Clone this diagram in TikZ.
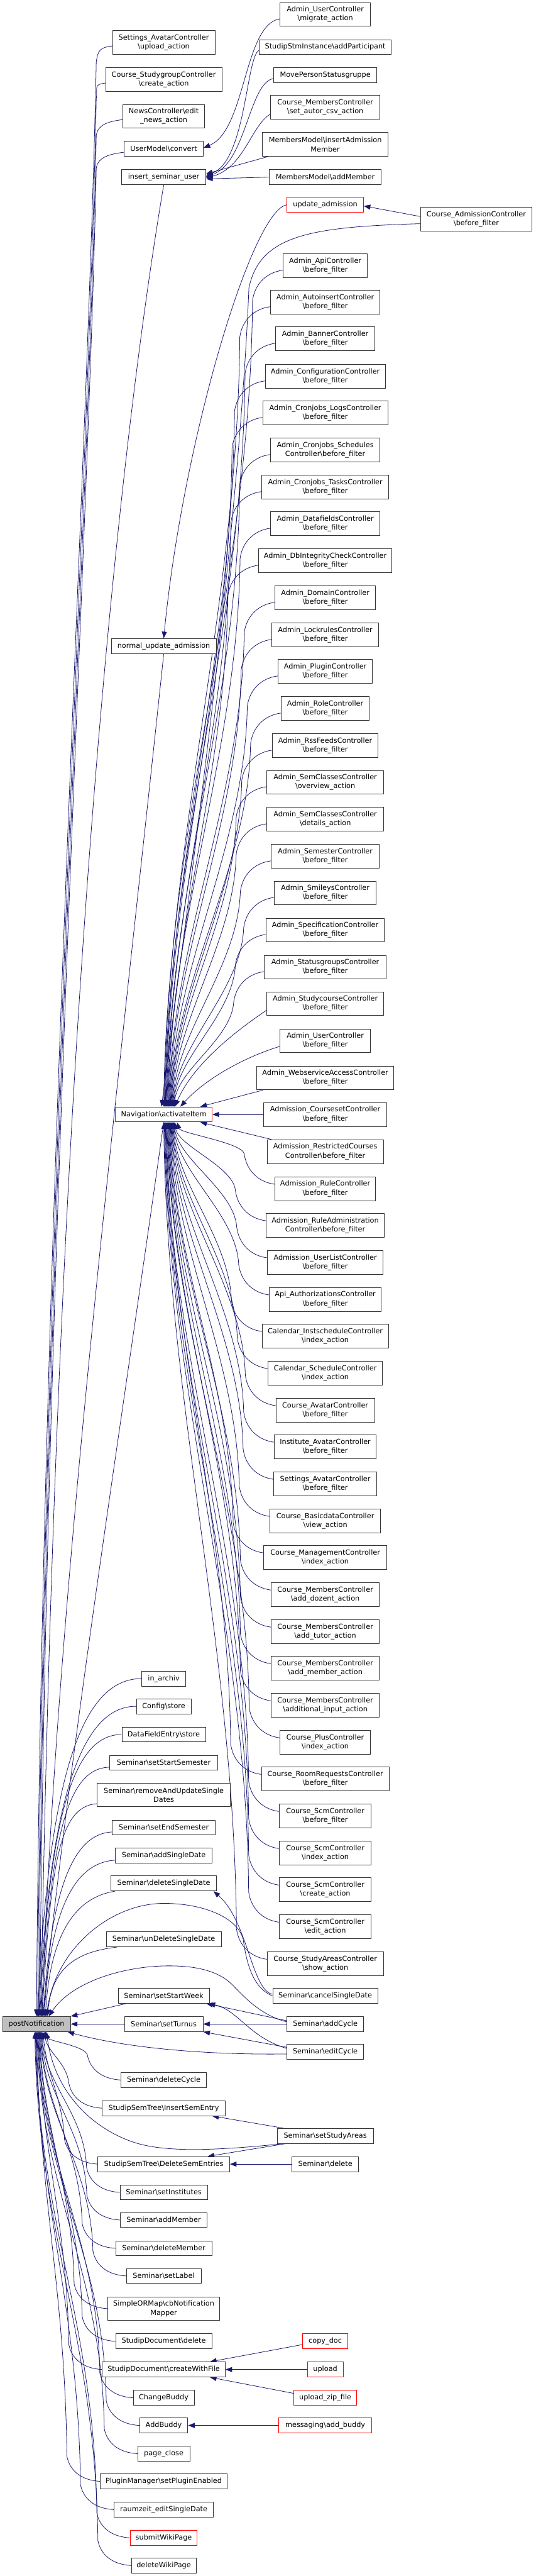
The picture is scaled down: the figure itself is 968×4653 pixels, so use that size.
\documentclass[tikz,border=0pt]{standalone}
\usepackage{fontspec}
\setmainfont{DejaVu Sans}
\usetikzlibrary{arrows.meta,backgrounds}
\definecolor{edgeblue}{RGB}{25,25,112}
\definecolor{nodegray}{RGB}{191,191,191}
\newcommand{\bsl}{\textbackslash}
\tikzset{
  box/.style={draw=black!80, line width=1pt, fill=white, align=center, inner xsep=5pt, inner ysep=0pt, font=\fontsize{12.8}{16}\selectfont, text=black},
  one/.style={box, minimum height=27pt},
  two/.style={box, minimum height=43pt},
  trunc/.style={draw=red},
  edge/.style={draw=edgeblue, line width=0.9pt, -{Triangle[length=12pt,width=9pt]}},
}
\begin{document}
\begin{tikzpicture}[x=1pt,y=-1pt]
\useasboundingbox (0,0) rectangle (968,4653);
% ---------- column 1
\node[one, fill=nodegray, minimum width=123pt] (postNot) at (66,3656) {postNotification};
% ---------- column 2
\node[two, minimum width=185pt] (setAvUp) at (296,77) {Settings\_AvatarController\\\bsl upload\_action};
\node[two, minimum width=210pt] (studyGroup) at (296,144) {Course\_StudygroupController\\\bsl create\_action};
\node[two, minimum width=147pt] (news) at (296,210) {NewsController\bsl edit\\\_news\_action};
\node[one, minimum width=143pt] (convert) at (296,269) {UserModel\bsl convert};
\node[one, minimum width=152pt] (insSem) at (296,320) {insert\_seminar\_user};
\node[one, minimum width=190pt] (normUpd) at (296,1167) {normal\_update\_admission};
\node[one, trunc, minimum width=175pt] (nav) at (296,2013) {Navigation\bsl activateItem};
\node[one, minimum width=79pt] (inArchiv) at (296,3032) {in\_archiv};
\node[one, minimum width=99pt] (cfgStore) at (296,3082) {Config\bsl store};
\node[one, minimum width=151pt] (dfStore) at (296,3133) {DataFieldEntry\bsl store};
\node[one, minimum width=195pt] (setStartSem) at (296,3184) {Seminar\bsl setStartSemester};
\node[two, minimum width=240pt] (removeUpd) at (296,3242) {Seminar\bsl removeAndUpdateSingle\\Dates};
\node[one, minimum width=187pt] (setEndSem) at (296,3301) {Seminar\bsl setEndSemester};
\node[one, minimum width=175pt] (addSD) at (296,3352) {Seminar\bsl addSingleDate};
\node[one, minimum width=191pt] (delSD) at (296,3402) {Seminar\bsl deleteSingleDate};
\node[one, minimum width=208pt] (undelSD) at (296,3503) {Seminar\bsl unDeleteSingleDate};
\node[one, minimum width=165pt] (setStartWeek) at (296,3605) {Seminar\bsl setStartWeek};
\node[one, minimum width=142pt] (setTurnus) at (296,3656) {Seminar\bsl setTurnus};
\node[one, minimum width=155pt] (delCycle) at (296,3757) {Seminar\bsl deleteCycle};
\node[one, minimum width=222pt] (insSemEntry) at (296,3808) {StudipSemTree\bsl InsertSemEntry};
\node[one, minimum width=238pt] (delSemEntries) at (296,3909) {StudipSemTree\bsl DeleteSemEntries};
\node[one, minimum width=158pt] (setInst) at (296,3960) {Seminar\bsl setInstitutes};
\node[one, minimum width=157pt] (semAddMember) at (296,4010) {Seminar\bsl addMember};
\node[one, minimum width=174pt] (semDelMember) at (296,4061) {Seminar\bsl deleteMember};
\node[one, minimum width=135pt] (setLabel) at (296,4111) {Seminar\bsl setLabel};
\node[two, minimum width=203pt] (sormap) at (296,4170) {SimpleORMap\bsl cbNotification\\Mapper};
\node[one, minimum width=174pt] (docDelete) at (296,4229) {StudipDocument\bsl delete};
\node[one, minimum width=222pt] (createWF) at (296,4280) {StudipDocument\bsl createWithFile};
\node[one, minimum width=110pt] (changeBuddy) at (296,4331) {ChangeBuddy};
\node[one, minimum width=87pt] (addBuddy) at (296,4381) {AddBuddy};
\node[one, minimum width=94pt] (pageClose) at (296,4432) {page\_close};
\node[one, minimum width=229pt] (pluginEn) at (296,4482) {PluginManager\bsl setPluginEnabled};
\node[one, minimum width=180pt] (raumzeit) at (296,4533) {raumzeit\_editSingleDate};
\node[one, trunc, minimum width=121pt] (submitWiki) at (296,4584) {submitWikiPage};
\node[one, minimum width=117pt] (deleteWiki) at (296,4634) {deleteWikiPage};
% ---------- column 3
\node[two, minimum width=163pt] (mig) at (588,26) {Admin\_UserController\\\bsl migrate\_action};
\node[one, minimum width=238pt] (addPart) at (588,85) {StudipStmInstance\bsl addParticipant};
\node[one, minimum width=187pt] (movePS) at (588,136) {MovePersonStatusgruppe};
\node[two, minimum width=197pt] (setAutor) at (588,194) {Course\_MembersController\\\bsl set\_autor\_csv\_action};
\node[two, minimum width=227pt] (insAdm) at (588,261) {MembersModel\bsl insertAdmission\\Member};
\node[one, minimum width=202pt] (mmAdd) at (588,320) {MembersModel\bsl addMember};
\node[one, trunc, minimum width=138pt] (updAdm) at (588,370) {update\_admission};
\node[two, minimum width=152pt] (apiC) at (588,480) {Admin\_ApiController\\\bsl before\_filter};
\node[two, minimum width=198pt] (autoins) at (588,546) {Admin\_AutoinsertController\\\bsl before\_filter};
\node[two, minimum width=179pt] (banner) at (588,612) {Admin\_BannerController\\\bsl before\_filter};
\node[two, minimum width=217pt] (config) at (588,680) {Admin\_ConfigurationController\\\bsl before\_filter};
\node[two, minimum width=226pt] (cronLogs) at (588,746) {Admin\_Cronjobs\_LogsController\\\bsl before\_filter};
\node[two, minimum width=198pt] (cronSched) at (588,813) {Admin\_Cronjobs\_Schedules\\Controller\bsl before\_filter};
\node[two, minimum width=230pt] (cronTasks) at (588,880) {Admin\_Cronjobs\_TasksController\\\bsl before\_filter};
\node[two, minimum width=197pt] (datafields) at (588,946) {Admin\_DatafieldsController\\\bsl before\_filter};
\node[two, minimum width=241pt] (dbint) at (588,1013) {Admin\_DbIntegrityCheckController\\\bsl before\_filter};
\node[two, minimum width=182pt] (domain) at (588,1080) {Admin\_DomainController\\\bsl before\_filter};
\node[two, minimum width=193pt] (lockrules) at (588,1147) {Admin\_LockrulesController\\\bsl before\_filter};
\node[two, minimum width=171pt] (plugin) at (588,1213) {Admin\_PluginController\\\bsl before\_filter};
\node[two, minimum width=159pt] (role) at (588,1280) {Admin\_RoleController\\\bsl before\_filter};
\node[two, minimum width=191pt] (rss) at (588,1347) {Admin\_RssFeedsController\\\bsl before\_filter};
\node[two, minimum width=211pt] (semOver) at (588,1413) {Admin\_SemClassesController\\\bsl overview\_action};
\node[two, minimum width=211pt] (semDet) at (588,1480) {Admin\_SemClassesController\\\bsl details\_action};
\node[two, minimum width=196pt] (semester) at (588,1547) {Admin\_SemesterController\\\bsl before\_filter};
\node[two, minimum width=184pt] (smileys) at (588,1613) {Admin\_SmileysController\\\bsl before\_filter};
\node[two, minimum width=214pt] (spec) at (588,1680) {Admin\_SpecificationController\\\bsl before\_filter};
\node[two, minimum width=220pt] (statusgr) at (588,1747) {Admin\_StatusgroupsController\\\bsl before\_filter};
\node[two, minimum width=212pt] (studycourse) at (588,1813) {Admin\_StudycourseController\\\bsl before\_filter};
\node[two, minimum width=163pt] (userBF) at (588,1880) {Admin\_UserController\\\bsl before\_filter};
\node[two, minimum width=248pt] (websvc) at (588,1947) {Admin\_WebserviceAccessController\\\bsl before\_filter};
\node[two, minimum width=223pt] (courseset) at (588,2013) {Admission\_CoursesetController\\\bsl before\_filter};
\node[two, minimum width=210pt] (restricted) at (588,2080) {Admission\_RestrictedCourses\\Controller\bsl before\_filter};
\node[two, minimum width=182pt] (rule) at (588,2147) {Admission\_RuleController\\\bsl before\_filter};
\node[two, minimum width=214pt] (ruleAdmin) at (588,2213) {Admission\_RuleAdministration\\Controller\bsl before\_filter};
\node[two, minimum width=209pt] (userList) at (588,2280) {Admission\_UserListController\\\bsl before\_filter};
\node[two, minimum width=202pt] (apiAuth) at (588,2347) {Api\_AuthorizationsController\\\bsl before\_filter};
\node[two, minimum width=228pt] (instsched) at (588,2413) {Calendar\_InstscheduleController\\\bsl index\_action};
\node[two, minimum width=207pt] (sched) at (588,2480) {Calendar\_ScheduleController\\\bsl index\_action};
\node[two, minimum width=178pt] (courseAvatar) at (588,2547) {Course\_AvatarController\\\bsl before\_filter};
\node[two, minimum width=184pt] (instAvatar) at (588,2613) {Institute\_AvatarController\\\bsl before\_filter};
\node[two, minimum width=186pt] (setAvatar) at (588,2680) {Settings\_AvatarController\\\bsl before\_filter};
\node[two, minimum width=200pt] (basicdata) at (588,2747) {Course\_BasicdataController\\\bsl view\_action};
\node[two, minimum width=222pt] (management) at (588,2813) {Course\_ManagementController\\\bsl index\_action};
\node[two, minimum width=196pt] (addDozent) at (588,2880) {Course\_MembersController\\\bsl add\_dozent\_action};
\node[two, minimum width=196pt] (addTutor) at (588,2947) {Course\_MembersController\\\bsl add\_tutor\_action};
\node[two, minimum width=196pt] (addMember) at (588,3013) {Course\_MembersController\\\bsl add\_member\_action};
\node[two, minimum width=196pt] (addInput) at (588,3080) {Course\_MembersController\\\bsl additional\_input\_action};
\node[two, minimum width=164pt] (plus) at (588,3147) {Course\_PlusController\\\bsl index\_action};
\node[two, minimum width=231pt] (roomreq) at (588,3213) {Course\_RoomRequestsController\\\bsl before\_filter};
\node[two, minimum width=166pt] (scmBF) at (588,3280) {Course\_ScmController\\\bsl before\_filter};
\node[two, minimum width=166pt] (scmIndex) at (588,3347) {Course\_ScmController\\\bsl index\_action};
\node[two, minimum width=166pt] (scmCreate) at (588,3413) {Course\_ScmController\\\bsl create\_action};
\node[two, minimum width=166pt] (scmEdit) at (588,3480) {Course\_ScmController\\\bsl edit\_action};
\node[two, minimum width=210pt] (studyAreas) at (588,3547) {Course\_StudyAreasController\\\bsl show\_action};
\node[one, minimum width=190pt] (cancelSD) at (588,3605) {Seminar\bsl cancelSingleDate};
\node[one, minimum width=138pt] (addCycle) at (588,3656) {Seminar\bsl addCycle};
\node[one, minimum width=138pt] (editCycle) at (588,3706) {Seminar\bsl editCycle};
\node[one, minimum width=174pt] (setStudyAreas) at (588,3858) {Seminar\bsl setStudyAreas};
\node[one, minimum width=120pt] (semDelete) at (588,3909) {Seminar\bsl delete};
\node[one, trunc, minimum width=82pt] (copyDoc) at (588,4229) {copy\_doc};
\node[one, trunc, minimum width=65pt] (upload) at (588,4280) {upload};
\node[one, trunc, minimum width=114pt] (uploadZip) at (588,4331) {upload\_zip\_file};
\node[one, trunc, minimum width=168pt] (addBuddyMsg) at (588,4381) {messaging\bsl add\_buddy};
% ---------- column 4
\node[two, minimum width=202pt] (courseAdmBF) at (861,396) {Course\_AdmissionController\\\bsl before\_filter};

\begin{scope}[on background layer]
\fill[white] (0,0) rectangle (968,4653);
% top block
\draw[edge] ([yshift=-8pt]mig.west) .. controls (440,45) and (445,235) .. ([yshift=2pt]convert.east);
\draw[edge] ([yshift=-6pt]addPart.west) .. controls (445,100) and (445,290) .. ([yshift=3pt]insSem.east);
\draw[edge] ([yshift=-6pt]movePS.west) .. controls (450,150) and (445,295) .. ([yshift=1pt]insSem.east);
\draw[edge] ([yshift=-12pt]setAutor.west) .. controls (455,225) and (440,305) .. ([yshift=-1pt]insSem.east);
\draw[edge] ([xshift=10pt]insAdm.south west) -- ([yshift=6pt]insSem.east);
\draw[edge] (mmAdd.west) -- ([yshift=-3pt]insSem.east);
\draw[edge] ([yshift=5pt]courseAdmBF.west) -- ([yshift=-2pt]updAdm.east);
\draw[edge] ([yshift=-8pt]courseAdmBF.west) .. controls (560,410) and (470,425) .. (450,520) .. controls (430,1000) and (330,1700) .. ([xshift=-4pt]nav.north);
\draw[edge] (updAdm.west) .. controls (455,380) and (330,800) .. (normUpd.north);
% controllers above Navigation\activateItem
\foreach \n/\yy/\e in {apiC/480/0, autoins/546/1, banner/612/2, config/680/3, cronLogs/746/4, cronSched/813/5, cronTasks/880/6, datafields/946/7, dbint/1013/8, domain/1080/9, lockrules/1147/10, plugin/1213/11, role/1280/12, rss/1347/13, semOver/1413/14, semDet/1480/15, semester/1547/16, smileys/1613/17, spec/1680/18, statusgr/1747/19}{
  \pgfmathsetmacro\da{(1999-\yy-63)*0.35}
  \draw[edge] ([yshift=-8pt]\n.west) .. controls +(-30,4) and +(4,-30) .. ++(-55,55) .. controls +(-4,\da) and +(6,-\da) .. ([xshift=\e pt]nav.north);
}
\draw[edge] ([yshift=-12pt]studycourse.west) .. controls (430,1860) and (350,1920) .. ([xshift=20pt]nav.north);
\draw[edge] ([yshift=-10pt]userBF.west) .. controls (440,1910) and (370,1950) .. ([xshift=30pt]nav.north);
\draw[edge] ([xshift=12pt]websvc.south west) -- ([xshift=-22pt]nav.north east);
\draw[edge] (courseset.west) -- (nav.east);
\draw[edge] ([xshift=8pt]restricted.north west) -- ([xshift=-22pt]nav.south east);
% controllers below Navigation\activateItem
\foreach \n/\yy/\e in {rule/2147/24, ruleAdmin/2213/20, userList/2280/19, apiAuth/2347/18, instsched/2413/17, sched/2480/16, courseAvatar/2547/15, instAvatar/2613/14, setAvatar/2680/13, basicdata/2747/12, management/2813/11, addDozent/2880/10, addTutor/2947/9, addMember/3013/8, addInput/3080/7, plus/3147/6, roomreq/3213/5, scmBF/3280/4, scmIndex/3347/3, scmCreate/3413/2, scmEdit/3480/1, studyAreas/3547/0}{
  \pgfmathsetmacro\da{(\yy-2027-63)*0.35}
  \draw[edge] ([yshift=8pt]\n.west) .. controls +(-30,-4) and +(4,30) .. ++(-55,-55) .. controls +(-4,-\da) and +(6,\da) .. ([xshift=\e pt]nav.south);
}
% long lines into postNotification (top)
\foreach \n/\yy/\e in {setAvUp/77/0, studyGroup/144/2, news/210/4, convert/269/6}{
  \pgfmathsetmacro\da{(3642-\yy)*0.4}
  \draw[edge] ([yshift=-6pt]\n.west) .. controls +(-22,3) and +(3,-22) .. (174,\yy+35) .. controls +(-14,\da*0.5) and +(10,-\da) .. ([xshift=\e pt]postNot.north);
}
\draw[edge] (insSem.south) .. controls (200,900) and (100,2000) .. ([xshift=8pt]postNot.north);
\draw[edge] (normUpd.south) .. controls (215,1950) and (100,2900) .. ([xshift=10pt]postNot.north);
\draw[edge] (nav.south) .. controls (230,2500) and (120,3200) .. ([xshift=12pt]postNot.north);
\draw[edge] (inArchiv.west) .. controls +(-110,0) and +(20,-430) .. ([xshift=2pt]postNot.north);
\draw[edge] (cfgStore.west) .. controls +(-100,0) and +(20,-390) .. ([xshift=4pt]postNot.north);
\draw[edge] (dfStore.west) .. controls +(-90,0) and +(18,-355) .. ([xshift=6pt]postNot.north);
\draw[edge] ([yshift=-8pt]setStartSem.west) .. controls +(-80,2) and +(18,-315) .. ([xshift=8pt]postNot.north);
\draw[edge] ([yshift=-16pt]removeUpd.west) .. controls +(-70,4) and +(16,-270) .. ([xshift=10pt]postNot.north);
\draw[edge] ([yshift=-8pt]setEndSem.west) .. controls +(-70,4) and +(15,-230) .. ([xshift=12pt]postNot.north);
\draw[edge] ([yshift=-8pt]addSD.west) .. controls +(-70,4) and +(12,-200) .. ([xshift=14pt]postNot.north);
\draw[edge] ([xshift=8pt]delSD.south west) .. controls +(-65,10) and +(10,-160) .. ([xshift=16pt]postNot.north);
\draw[edge] ([xshift=20pt]undelSD.south west) .. controls +(-70,8) and +(8,-90) .. ([xshift=20pt]postNot.north);
% seminar cycle block
\draw[edge] ([yshift=3pt]cancelSD.west) .. controls (455,3595) and (448,3470) .. ([xshift=-6pt]delSD.south east);
\draw[edge] (cancelSD.west) .. controls (455,3590) and (445,3540) .. (440,3505) .. controls (432,3465) and (370,3438) .. (296,3438) .. controls (200,3438) and (100,3520) .. ([xshift=18pt]postNot.north);
\draw[edge] ([yshift=4pt]addCycle.west) .. controls (470,3640) and (440,3605) .. (420,3585) .. controls (390,3555) and (340,3550) .. (296,3551) .. controls (220,3553) and (130,3580) .. ([xshift=22pt]postNot.north);
\draw[edge] ([xshift=15pt]setStartWeek.south west) -- (postNot.north east);
\draw[edge] (setTurnus.west) -- (postNot.east);
\draw[edge] ([yshift=6pt]addCycle.west) -- ([xshift=-6pt]setStartWeek.south east);
\draw[edge] ([yshift=6pt]editCycle.west) .. controls (450,3680) and (430,3630) .. ([xshift=-2pt]setStartWeek.south east);
\draw[edge] (addCycle.west) -- (setTurnus.east);
\draw[edge] ([yshift=8pt]editCycle.west) -- (setTurnus.south east);
\draw[edge] ([yshift=-4pt]editCycle.west) .. controls (380,3712) and (230,3700) .. ([xshift=-6pt]postNot.south east);
% sem tree block
\draw[edge] ([xshift=12pt]setStudyAreas.north west) -- ([xshift=-24pt]insSemEntry.south east);
\draw[edge] ([xshift=16pt]setStudyAreas.south west) -- ([xshift=-40pt]delSemEntries.north east);
\draw[edge] ([xshift=12pt]setStudyAreas.south west) .. controls (380,3886) and (300,3886) .. (250,3872) .. controls (180,3852) and (100,3790) .. ([xshift=18pt]postNot.south);
\draw[edge] (semDelete.west) -- (delSemEntries.east);
% documents and buddies
\draw[edge] ([yshift=-6pt]copyDoc.west) -- ([xshift=-28pt]createWF.north east);
\draw[edge] (upload.west) -- (createWF.east);
\draw[edge] ([yshift=8pt]uploadZip.west) -- ([xshift=-28pt]createWF.south east);
\draw[edge] (addBuddyMsg.west) -- (addBuddy.east);
% lower column-2 nodes into postNotification (bottom)
\foreach \n/\yy/\e in {delCycle/3757/16, insSemEntry/3808/14, delSemEntries/3909/12, setInst/3960/10, semAddMember/4010/9, semDelMember/4061/8, setLabel/4111/7, sormap/4170/6, docDelete/4229/5, createWF/4280/4, changeBuddy/4331/3, addBuddy/4381/2, pageClose/4432/1, pluginEn/4482/0, raumzeit/4533/-1, submitWiki/4584/-2, deleteWiki/4634/-3}{
  \pgfmathsetmacro\da{max(10,(\yy-45-3670)*0.4)}
  \draw[edge] (\n.west) .. controls +(-35,-2) and +(5,25) .. ++(-60,-45) .. controls +(-4,-\da) and +(6,\da) .. ([xshift=\e pt]postNot.south);
}
\end{scope}
\end{tikzpicture}
\end{document}
